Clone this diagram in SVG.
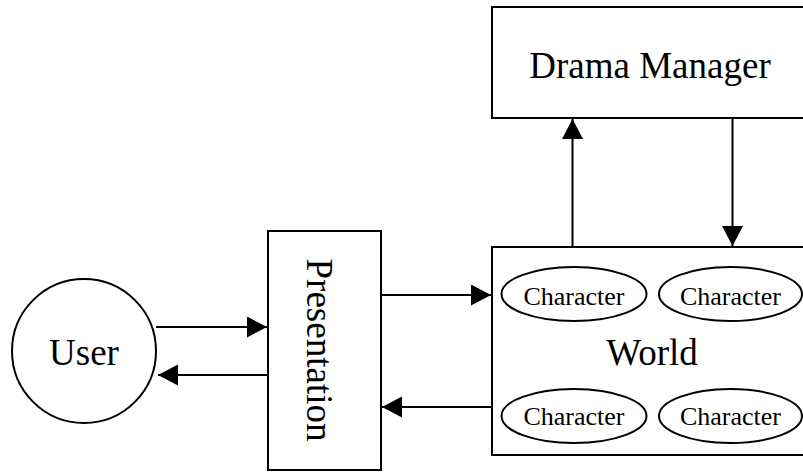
<svg xmlns="http://www.w3.org/2000/svg" width="803" height="472" viewBox="0 0 803 472">
<style>
.box{fill:#fff;stroke:#000;stroke-width:2}
.ell{fill:#fff;stroke:#000;stroke-width:2}
.big{font-family:'Liberation Serif','DejaVu Serif',serif;font-size:37px;fill:#000;text-anchor:middle}
.small{font-family:'Liberation Serif','DejaVu Serif',serif;font-size:26px;fill:#000;text-anchor:middle}
.conn{stroke:#000;stroke-width:2;fill:none;marker-end:url(#ah)}
</style>
<defs>
<marker id="ah" markerUnits="userSpaceOnUse" markerWidth="21" markerHeight="22" refX="20" refY="10.5" orient="auto">
<path d="M0,0 L20,10.5 L0,21 Z" fill="#000"/>
</marker>
</defs>
<g id="drama-manager">
<rect class="box" x="492" y="7" width="320" height="111"/>
<text class="big" x="650" y="78" font-family="Liberation Serif">Drama Manager</text>
</g>
<g id="user">
<circle class="box" cx="84" cy="351" r="72"/>
<text class="big" x="84" y="365" font-family="Liberation Serif">User</text>
</g>
<g id="presentation">
<rect class="box" x="268" y="231" width="113" height="239"/>
<text class="big" transform="translate(307,350) rotate(90)" x="0" y="0" font-family="Liberation Serif">Presentation</text>
</g>
<g id="world">
<rect class="box" x="492" y="247" width="320" height="208"/>
<text class="big" x="652" y="365" font-family="Liberation Serif">World</text>
</g>
<g id="character-1">
<ellipse class="ell" cx="574" cy="294" rx="72.5" ry="27"/>
<text class="small" x="574" y="305" font-family="Liberation Serif">Character</text>
</g>
<g id="character-2">
<ellipse class="ell" cx="730.5" cy="294" rx="71.5" ry="27"/>
<text class="small" x="730.5" y="305" font-family="Liberation Serif">Character</text>
</g>
<g id="character-3">
<ellipse class="ell" cx="574" cy="416" rx="72.5" ry="27"/>
<text class="small" x="574" y="425" font-family="Liberation Serif">Character</text>
</g>
<g id="character-4">
<ellipse class="ell" cx="730.5" cy="416" rx="71.5" ry="27"/>
<text class="small" x="730.5" y="425" font-family="Liberation Serif">Character</text>
</g>
<g id="connectors">
<line class="conn" x1="572.5" y1="247" x2="572.5" y2="119"/>
<line class="conn" x1="732.5" y1="118" x2="732.5" y2="246"/>
<line class="conn" x1="156" y1="327" x2="267" y2="327"/>
<line class="conn" x1="268" y1="375" x2="158" y2="375"/>
<line class="conn" x1="381" y1="295" x2="491" y2="295"/>
<line class="conn" x1="492" y1="407" x2="382" y2="407"/>
</g>
</svg>
